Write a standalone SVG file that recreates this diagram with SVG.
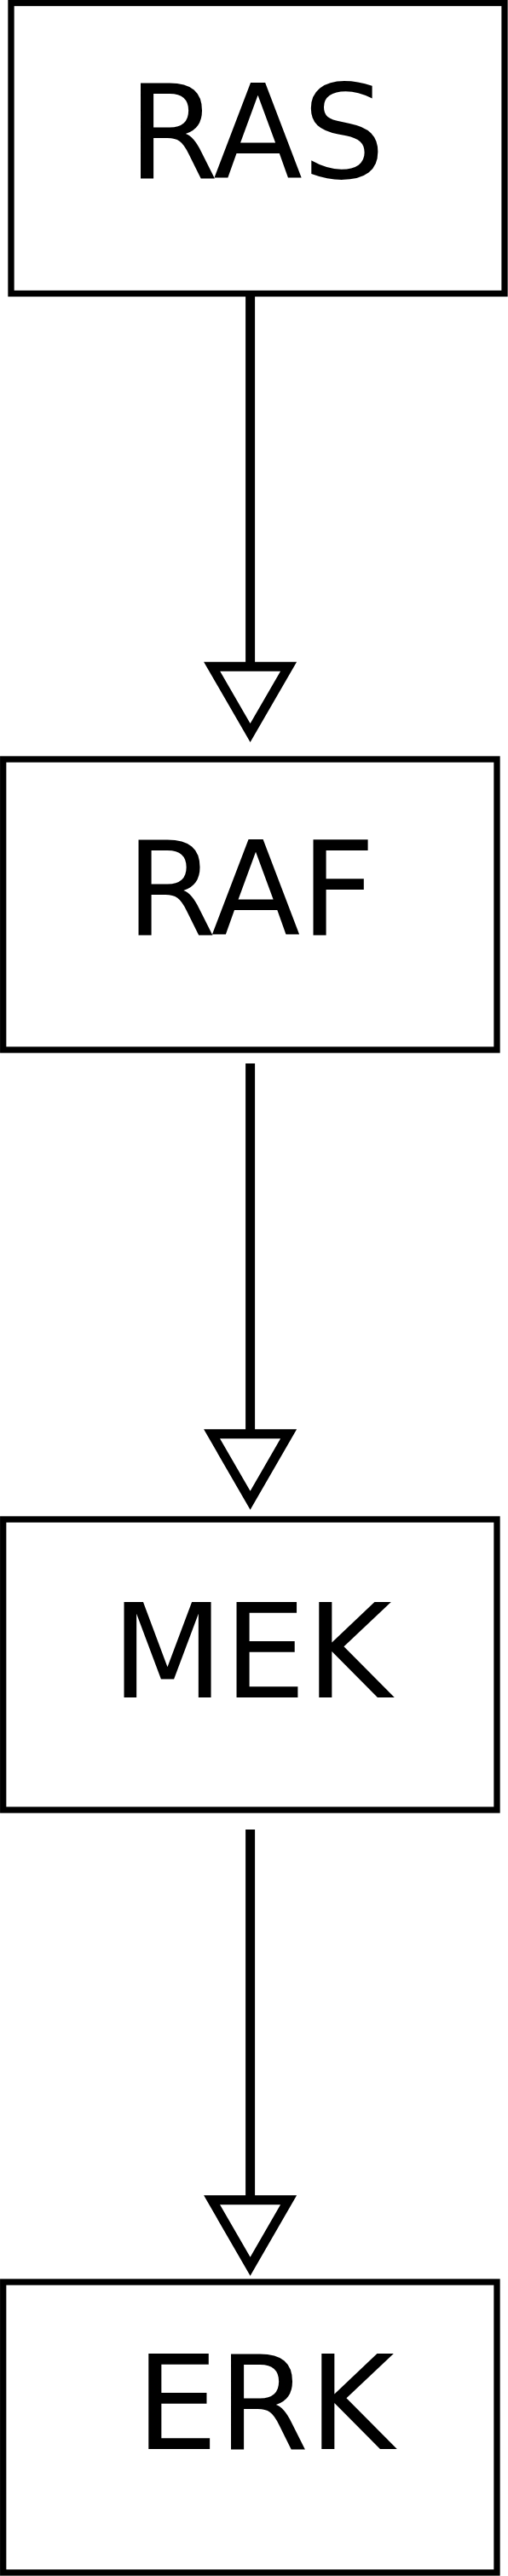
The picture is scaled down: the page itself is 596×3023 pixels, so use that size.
<svg xmlns="http://www.w3.org/2000/svg" width="596" height="3023" viewBox="0 0 596 3023">
<style>
.box{fill:#ffffff;stroke:#000000;stroke-width:7.3}
.lbl{font-family:"DejaVu Sans",sans-serif;font-size:153px;fill:#000000;text-anchor:middle}
.edge{fill:none;stroke:#000000;stroke-width:11}
.head{fill:#ffffff;stroke:#000000;stroke-width:11;stroke-miterlimit:10}
</style>
<rect width="596" height="3023" fill="#ffffff"/>
<g id="connectors">
<line class="edge" x1="293.6" y1="348" x2="293.6" y2="782.2"/>
<polygon class="head" points="248.6,782.2 338.6,782.2 293.6,860.1"/>
<line class="edge" x1="293.6" y1="1248" x2="293.6" y2="1682.8"/>
<polygon class="head" points="248.6,1682.8 338.6,1682.8 293.6,1760.7"/>
<line class="edge" x1="293.6" y1="2147" x2="293.6" y2="2581.8"/>
<polygon class="head" points="248.6,2581.8 338.6,2581.8 293.6,2659.7"/>
</g>
<g id="RAS">
<rect class="box" x="13" y="3.5" width="579" height="341"/>
<text class="lbl" x="301" y="209.3">RAS</text>
</g>
<g id="RAF">
<rect class="box" x="3.7" y="891" width="579.3" height="341"/>
<text class="lbl" x="294" y="1097">RAF</text>
</g>
<g id="MEK">
<rect class="box" x="3.7" y="1783" width="579.3" height="341"/>
<text class="lbl" x="295" y="1991.7">MEK</text>
</g>
<g id="ERK">
<rect class="box" x="3.7" y="2678" width="579.3" height="341"/>
<text class="lbl" x="311" y="2873.7">ERK</text>
</g>
</svg>
